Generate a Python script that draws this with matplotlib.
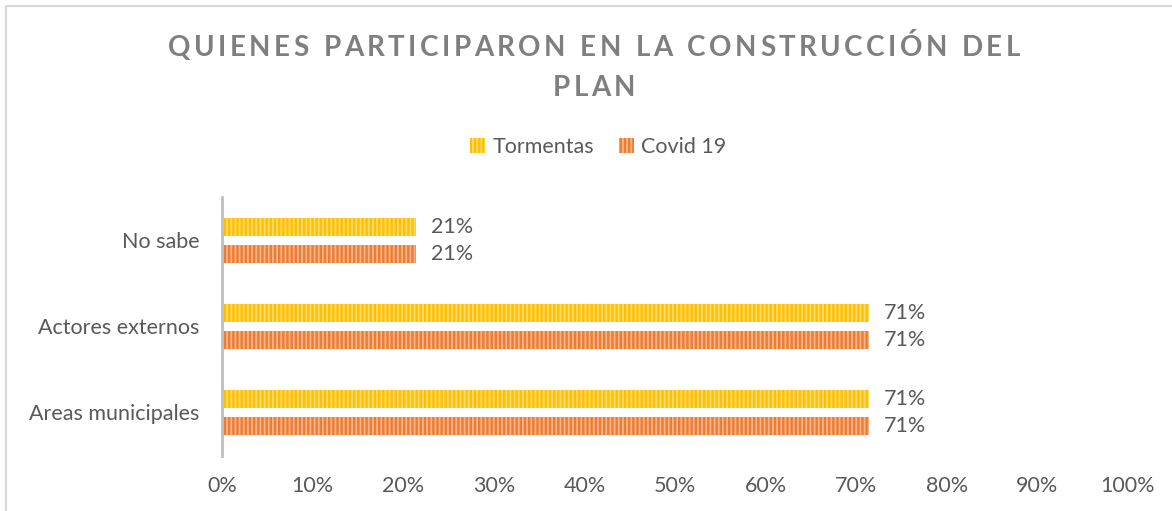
import matplotlib.pyplot as plt
import numpy as np
from matplotlib.lines import Line2D

categories = ["Areas municipales", "Actores externos", "No sabe"]
tormentas = [71.43, 71.43, 21.43]
covid = [71.43, 71.43, 21.43]
series_names = ["Tormentas", "Covid 19"]
title_lines = ["QUIENES PARTICIPARON EN LA CONSTRUCCIÓN DEL", "PLAN"]
xticks = np.arange(0, 101, 10)

plt.rcParams["font.family"] = ["Lato", "DejaVu Sans"]
plt.rcParams["hatch.linewidth"] = 1.3

W, H = 1172, 511
fig = plt.figure(figsize=(W / 100, H / 100), dpi=100)
ax = fig.add_axes([222 / W, 1 - 455.5 / H, 906 / W, 258 / H])

y = np.arange(len(categories))
bh = 18 / 86
off = 13.5 / 86
text_col = "#595959"
fs = 15.5

b1 = ax.barh(y + off, tormentas, height=bh, color="#FFC000", edgecolor="#FFDA6E",
             linewidth=0, hatch="||||", label=series_names[0])
b2 = ax.barh(y - off, covid, height=bh, color="#ED7D31", edgecolor="#F6B48A",
             linewidth=0, hatch="||||", label=series_names[1])

for bars, vals in [(b1, tormentas), (b2, covid)]:
    for rect, v in zip(bars, vals):
        ax.annotate(f"{v:.0f}%", xy=(v, rect.get_y() + rect.get_height() / 2),
                    xytext=(15, 0), textcoords="offset pixels",
                    va="center", ha="left", fontsize=fs, color=text_col)

ax.set_xlim(0, 100)
ax.set_ylim(-0.5, 2.5)
ax.set_xticks(xticks)
ax.set_xticklabels([f"{t}%" for t in xticks])
ax.set_yticks(y)
ax.set_yticklabels(categories)
ax.tick_params(axis="x", length=0, pad=15, labelsize=fs, labelcolor=text_col)
ax.tick_params(axis="y", length=0, pad=16, labelsize=fs, labelcolor=text_col)
for s in ["top", "right", "bottom"]:
    ax.spines[s].set_visible(False)
ax.spines["left"].set_color("#BFBFBF")
ax.spines["left"].set_linewidth(2)

# title with letter spacing: place characters one by one
renderer = fig.canvas.get_renderer()
title_kw = dict(fontsize=20, fontweight="bold", color="#7F7F7F", va="center", ha="left")


def char_widths(s):
    ws = []
    for ch in s:
        t = fig.text(0, 0, ch if ch != " " else "n", **title_kw)
        w = t.get_window_extent(renderer).width
        t.remove()
        ws.append(w * (0.5 if ch == " " else 1.0))
    return ws


w1 = char_widths(title_lines[0])
track = (852 - sum(w1)) / (len(w1) - 1)


def draw_spaced(s, yc, xc=594):
    ws = char_widths(s)
    total = sum(ws) + track * (len(ws) - 1)
    x = xc - total / 2
    for ch, w in zip(s, ws):
        if ch != " ":
            fig.text(x / W, 1 - yc / H, ch, **title_kw)
        x += w + track


draw_spaced(title_lines[0], 48)
draw_spaced(title_lines[1], 88)

fig.legend(loc="center", bbox_to_anchor=(598 / W, 1 - 147 / H), ncol=2, frameon=False,
           fontsize=fs, labelcolor=text_col, handlelength=0.7, handleheight=0.7,
           handletextpad=0.35, columnspacing=1.15)

# chart border (top and left visible)
fig.add_artist(Line2D([6 / W, 6 / W], [0, 1 - 6 / H], color="#D9D9D9", lw=1.5))
fig.add_artist(Line2D([6 / W, 1], [1 - 6 / H, 1 - 6 / H], color="#D9D9D9", lw=1.5))

fig.savefig("out.png", dpi=100)
